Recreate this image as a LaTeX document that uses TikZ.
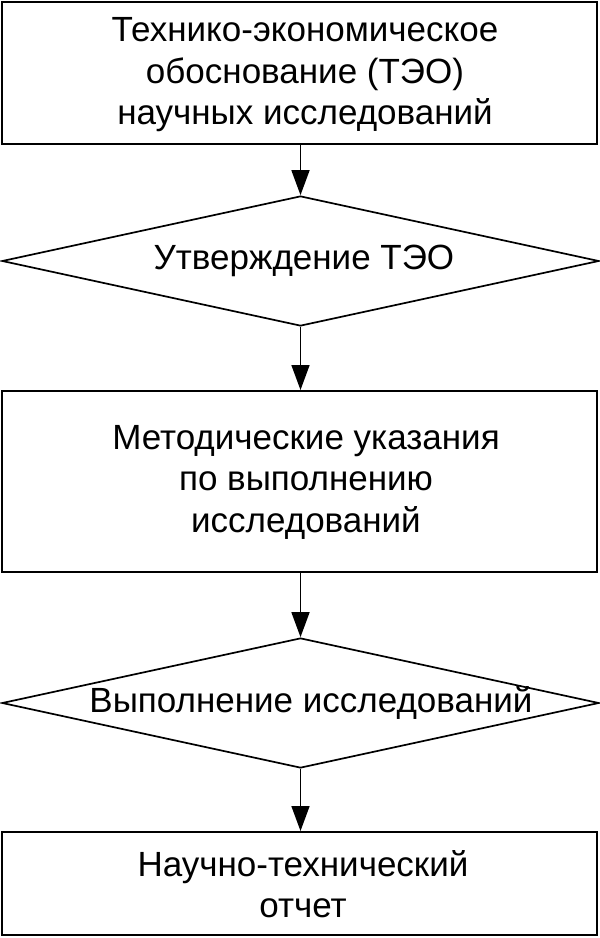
\documentclass[tikz,border=0pt]{standalone}
\usepackage{fontspec}
\setmainfont{Liberation Sans}
\usetikzlibrary{shapes.geometric,arrows.meta}
\begin{document}
\begin{tikzpicture}[x=1pt,y=-1pt,
  boxnode/.style={draw, line width=2pt, rectangle, inner sep=0pt, minimum width=595pt},
  decnode/.style={draw, line width=1.7pt, diamond, inner sep=0pt, minimum width=597pt, minimum height=130pt},
  lbl/.style={font=\fontsize{35}{41.5}\selectfont, align=center, inner sep=0pt},
  arr/.style={line width=1.6pt, -{Triangle[width=18pt,length=25pt]}}]
\useasboundingbox (0,0) rectangle (600,938);
\node[boxnode, minimum height=142pt] (b1) at (299.5,73) {};
\node[lbl] (t1) at (305,75) {Технико-экономическое\\обоснование (ТЭО)\\научных исследований};
\node[decnode] (d1) at (300.5,261) {};
\node[lbl] (t2) at (304,261) {Утверждение ТЭО};
\node[boxnode, minimum height=181pt] (b2) at (299.5,481.5) {};
\node[lbl] (t3) at (306,482) {Методические указания\\по выполнению\\исследований};
\node[decnode] (d2) at (300.5,703) {};
\node[lbl] (t4) at (311,703) {Выполнение исследований};
\node[boxnode, minimum height=103pt] (b3) at (299.5,883.5) {};
\node[lbl] (t5) at (303,884) {Научно-технический\\отчет};
\draw[arr] (b1.south -| d1.north) -- (d1.north);
\draw[arr] (d1.south) -- (d1.south |- b2.north);
\draw[arr] (b2.south -| d2.north) -- (d2.north);
\draw[arr] (d2.south) -- (d2.south |- b3.north);
\end{tikzpicture}
\end{document}
